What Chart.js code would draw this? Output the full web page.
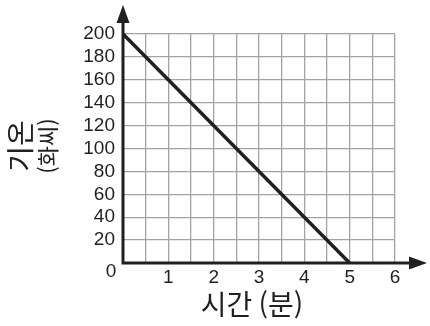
<!DOCTYPE html>
<html lang="ko">
<head>
<meta charset="UTF-8">
<title>기온과 시간</title>
<script src="https://cdn.jsdelivr.net/npm/chart.js"></script>
<style>
  html, body { margin: 0; padding: 0; background: #fff; }
  #wrap { width: 430px; height: 326px; }
</style>
</head>
<body>
<div id="wrap"><canvas id="chart" width="430" height="326"></canvas></div>
<script>
// temperature (°F) against time (minutes)
const timeMin = [0, 5];
const tempF = [200, 0];
const xTicks = [1, 2, 3, 4, 5, 6];
const yTicks = [20, 40, 60, 80, 100, 120, 140, 160, 180, 200];

const ink = '#231f20';
const gridGray = '#a3a3a3';
const tickFont = { family: 'Liberation Sans, Arial, sans-serif', size: 19 };
const krFont = '"Noto Sans CJK KR", sans-serif';

// black axes with arrowheads, corner "0" and the axis titles
const axesPlugin = {
  id: 'axes',
  afterDraw(chart) {
    const { ctx } = chart;
    const x0 = chart.scales.x.getPixelForValue(0);
    const y0 = chart.scales.y.getPixelForValue(0);
    ctx.save();
    ctx.strokeStyle = ink;
    ctx.fillStyle = ink;
    ctx.lineWidth = 3;
    ctx.beginPath();
    ctx.moveTo(x0, y0 + 1.5);
    ctx.lineTo(x0, 16);
    ctx.moveTo(x0 - 1.5, y0);
    ctx.lineTo(418, y0);
    ctx.stroke();
    // up arrow
    ctx.beginPath();
    ctx.moveTo(x0, 5);
    ctx.lineTo(x0 - 6.5, 23);
    ctx.lineTo(x0 + 6.5, 23);
    ctx.closePath();
    ctx.fill();
    // right arrow
    ctx.beginPath();
    ctx.moveTo(427, y0);
    ctx.lineTo(409, y0 - 6.5);
    ctx.lineTo(409, y0 + 6.5);
    ctx.closePath();
    ctx.fill();

    ctx.font = tickFont.size + 'px ' + tickFont.family;
    ctx.textAlign = 'center';
    ctx.textBaseline = 'middle';
    ctx.fillText('0', 111, 272);

    ctx.font = '28px ' + krFont;
    ctx.fillText('시간 (분)', 252, 304);

    ctx.translate(20, 146);
    ctx.rotate(-Math.PI / 2);
    ctx.fillText('기온', 0, 0);
    ctx.font = '22px ' + krFont;
    ctx.fillText('(화씨)', 0, 28);
    ctx.restore();
  }
};

new Chart(document.getElementById('chart'), {
  type: 'scatter',
  data: {
    datasets: [{
      data: timeMin.map((t, i) => ({ x: t, y: tempF[i] })),
      showLine: true,
      borderColor: ink,
      borderWidth: 3.5,
      pointRadius: 0,
      clip: false
    }]
  },
  options: {
    responsive: false,
    animation: false,
    events: [],
    layout: { padding: { top: 34, right: 35, left: 0, bottom: 0 } },
    plugins: { legend: { display: false }, tooltip: { enabled: false } },
    scales: {
      x: {
        type: 'linear',
        min: 0, max: 6,
        afterFit(s) { s.height = 63; },
        afterBuildTicks(s) {
          s.ticks = [];
          for (let v = 0; v <= 12; v++) s.ticks.push({ value: v / 2 });
        },
        ticks: {
          color: ink,
          font: tickFont,
          padding: 3,
          maxRotation: 0,
          autoSkip: false,
          callback: v => xTicks.includes(v) ? String(v) : ''
        },
        grid: { color: gridGray, lineWidth: 1.3, drawTicks: false },
        border: { display: false }
      },
      y: {
        min: 0, max: 200,
        afterFit(s) { s.width = 123; },
        afterBuildTicks(s) {
          s.ticks = [{ value: 0 }].concat(yTicks.map(v => ({ value: v })));
        },
        ticks: {
          color: ink,
          font: tickFont,
          padding: 8,
          autoSkip: false,
          callback: v => yTicks.includes(v) ? String(v) : ''
        },
        grid: { color: gridGray, lineWidth: 1.3, drawTicks: false },
        border: { display: false }
      }
    }
  },
  plugins: [axesPlugin]
});
</script>
</body>
</html>
